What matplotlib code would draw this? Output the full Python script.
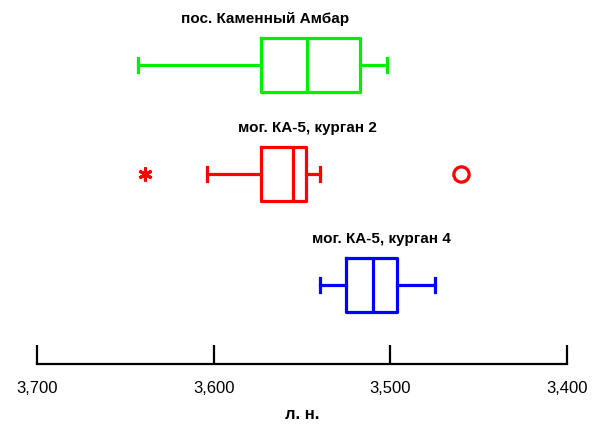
import matplotlib
matplotlib.use("Agg")
import matplotlib.pyplot as plt
from matplotlib.ticker import FuncFormatter

plt.rcParams['font.family'] = ['Liberation Sans', 'DejaVu Sans']

groups = ["пос. Каменный Амбар", "мог. КА-5, курган 2", "мог. КА-5, курган 4"]
colors = ["#00ee00", "#ff0000", "#0000ff"]
whislo = [3643, 3604, 3540]
q1 = [3573, 3573, 3525]
med = [3547, 3555, 3510]
q3 = [3517, 3548, 3496]
whishi = [3502, 3540, 3475]
outliers = [[], [3460], []]
extremes = [[], [3639], []]
xticks = [3700, 3600, 3500, 3400]
xlabel = "л. н."

fig = plt.figure(figsize=(5.93, 4.26), dpi=100)
ax = fig.add_axes([37/593, 62/426, 530/593, 364/426])
ax.set_xlim(3700, 3400)
ax.set_ylim(364, 0)

ypos = [65, 174, 285]
label_x = [3571, 3547, 3505]
for i, g in enumerate(groups):
    st = dict(whislo=whislo[i], q1=q1[i], med=med[i], q3=q3[i], whishi=whishi[i], fliers=[])
    c = colors[i]
    ax.bxp([st], positions=[ypos[i]], widths=[54], vert=False, showfliers=False,
           capwidths=[14],
           boxprops=dict(color=c, linewidth=2.3),
           medianprops=dict(color=c, linewidth=2.3),
           whiskerprops=dict(color=c, linewidth=2.3),
           capprops=dict(color=c, linewidth=2.3),
           manage_ticks=False)
    if outliers[i]:
        ax.plot(outliers[i], [ypos[i]] * len(outliers[i]), linestyle='none', marker='o',
                markersize=11, markerfacecolor='none', markeredgecolor=c, markeredgewidth=2.3)
    if extremes[i]:
        ax.plot(extremes[i], [ypos[i]] * len(extremes[i]), linestyle='none', marker=(6, 2, 0),
                markersize=10, markeredgecolor=c, color=c, markeredgewidth=2.2)
    ax.text(label_x[i], ypos[i] - 46, g,
            ha='center', va='center', fontsize=11, fontweight='bold')

for s in ['top', 'left', 'right']:
    ax.spines[s].set_visible(False)
ax.spines['bottom'].set_linewidth(1.6)
ax.set_yticks([])
ax.set_xticks(xticks)
ax.xaxis.set_major_formatter(FuncFormatter(lambda v, p: f"{v:,.0f}"))
ax.tick_params(axis='x', direction='in', length=14, width=1.6, labelsize=12, pad=12)
ax.set_xlabel(xlabel, fontsize=12, fontweight='bold', labelpad=8)

fig.savefig("out.png", dpi=100)
